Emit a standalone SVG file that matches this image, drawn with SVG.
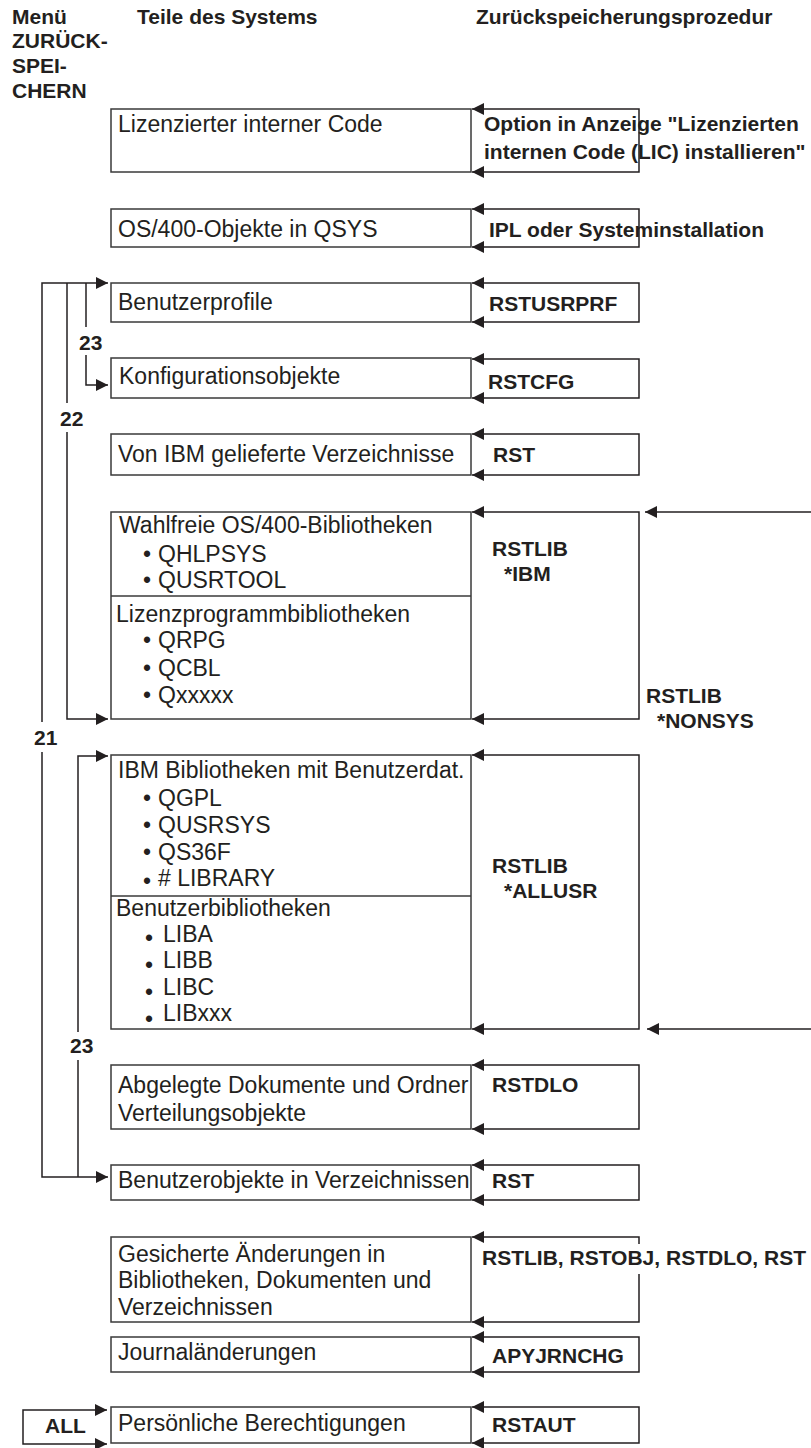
<svg xmlns="http://www.w3.org/2000/svg" width="811" height="1448" viewBox="0 0 811 1448">
<style>
  .hd { font-family: "Liberation Sans", Arial, sans-serif; font-size: 21px; font-weight: bold; fill: #231f20; }
  .tx { font-family: "Liberation Sans", Arial, sans-serif; font-size: 23px; fill: #231f20; }
  .bx { fill: #fff; stroke: #3a3a3a; stroke-width: 1.5; }
  .cn { fill: none; stroke: #231f20; stroke-width: 1.5; }
</style>
<defs>
  <marker id="ah" viewBox="0 0 12 12" refX="12" refY="6" markerWidth="12" markerHeight="12" markerUnits="userSpaceOnUse" orient="auto-start-reverse">
    <path d="M0,0 L12,6 L0,12 z" fill="#231f20"/>
  </marker>
</defs>

<g id="headers">
  <text class="hd" x="12" y="24">Menü</text>
  <text class="hd" x="12" y="48">ZURÜCK-</text>
  <text class="hd" x="12" y="73">SPEI-</text>
  <text class="hd" x="12" y="98">CHERN</text>
  <text class="hd" x="137" y="24">Teile des Systems</text>
  <text class="hd" x="476" y="24">Zurückspeicherungsprozedur</text>
</g>

<g id="connectors">
  <!-- right-side procedure brackets -->
  <path class="cn" d="M472,109 H639 V172 H472" marker-start="url(#ah)" marker-end="url(#ah)"/>
  <path class="cn" d="M472,209 H639 V247 H472" marker-start="url(#ah)" marker-end="url(#ah)"/>
  <path class="cn" d="M472,283 H639 V322 H472" marker-start="url(#ah)" marker-end="url(#ah)"/>
  <path class="cn" d="M472,359 H639 V398 H472" marker-start="url(#ah)" marker-end="url(#ah)"/>
  <path class="cn" d="M472,434 H639 V475 H472" marker-start="url(#ah)" marker-end="url(#ah)"/>
  <path class="cn" d="M472,512 H639 V719 H472" marker-start="url(#ah)" marker-end="url(#ah)"/>
  <path class="cn" d="M472,755 H639 V1029 H472" marker-start="url(#ah)" marker-end="url(#ah)"/>
  <path class="cn" d="M472,1065 H639 V1129 H472" marker-start="url(#ah)" marker-end="url(#ah)"/>
  <path class="cn" d="M472,1165 H639 V1200 H472" marker-start="url(#ah)" marker-end="url(#ah)"/>
  <path class="cn" d="M472,1237 H639 V1244" marker-start="url(#ah)"/>
  <path class="cn" d="M639,1274 V1322 H472" marker-end="url(#ah)"/>
  <path class="cn" d="M472,1337 H639 V1372 H472" marker-start="url(#ah)" marker-end="url(#ah)"/>
  <path class="cn" d="M472,1407 H639 V1443 H472" marker-start="url(#ah)" marker-end="url(#ah)"/>
  <!-- NONSYS -->
  <path class="cn" d="M811,512 H645" marker-end="url(#ah)"/>
  <path class="cn" d="M811,1029 H647" marker-end="url(#ah)"/>
  <!-- menu option lines -->
  <path class="cn" d="M42,722 V283 H108" marker-end="url(#ah)"/>
  <path class="cn" d="M42,752 V1177 H108" marker-end="url(#ah)"/>
  <path class="cn" d="M67,283 V403"/>
  <path class="cn" d="M67,432 V719 H108" marker-end="url(#ah)"/>
  <path class="cn" d="M86,283 V327"/>
  <path class="cn" d="M86,355 V385 H108" marker-end="url(#ah)"/>
  <path class="cn" d="M108,756 H78 V1032" marker-start="url(#ah)"/>
  <path class="cn" d="M78,1060 V1177"/>
  <path class="cn" d="M107,1410 H23 V1444 H107" marker-start="url(#ah)" marker-end="url(#ah)"/>
  <text class="hd" x="34" y="745">21</text>
  <text class="hd" x="60" y="426">22</text>
  <text class="hd" x="79" y="350">23</text>
  <text class="hd" x="70" y="1053">23</text>
</g>

<g id="n-lic">
  <rect class="bx" x="111" y="109" width="360" height="63"/>
  <text class="tx" x="118" y="132">Lizenzierter interner Code</text>
  <text class="hd" x="484" y="131">Option in Anzeige "Lizenzierten</text>
  <text class="hd" x="484" y="159">internen Code (LIC) installieren"</text>
</g>
<g id="n-os400">
  <rect class="bx" x="111" y="209" width="360" height="38"/>
  <text class="tx" x="118" y="237">OS/400-Objekte in QSYS</text>
  <text class="hd" x="489" y="237">IPL oder Systeminstallation</text>
</g>
<g id="n-usrprf">
  <rect class="bx" x="111" y="283" width="360" height="39"/>
  <text class="tx" x="118" y="310">Benutzerprofile</text>
  <text class="hd" x="489" y="311">RSTUSRPRF</text>
</g>
<g id="n-cfg">
  <rect class="bx" x="111" y="358" width="360" height="40"/>
  <text class="tx" x="119" y="384">Konfigurationsobjekte</text>
  <text class="hd" x="488" y="389">RSTCFG</text>
</g>
<g id="n-ibmdir">
  <rect class="bx" x="111" y="434" width="360" height="41"/>
  <text class="tx" x="118" y="462">Von IBM gelieferte Verzeichnisse</text>
  <text class="hd" x="493" y="462">RST</text>
</g>
<g id="n-ibmlib">
  <rect class="bx" x="111" y="512" width="360" height="207"/>
  <line class="bx" x1="111" y1="596" x2="471" y2="596"/>
  <text class="tx" x="119" y="533">Wahlfreie OS/400-Bibliotheken</text>
  <text class="tx" x="143" y="562">•</text><text class="tx" x="158" y="562">QHLPSYS</text>
  <text class="tx" x="143" y="588">•</text><text class="tx" x="158" y="588">QUSRTOOL</text>
  <text class="tx" x="116" y="622">Lizenzprogrammbibliotheken</text>
  <text class="tx" x="143" y="648">•</text><text class="tx" x="158" y="648">QRPG</text>
  <text class="tx" x="143" y="676">•</text><text class="tx" x="158" y="676">QCBL</text>
  <text class="tx" x="143" y="703">•</text><text class="tx" x="158" y="703">Qxxxxx</text>
  <text class="hd" x="492" y="556">RSTLIB</text>
  <text class="hd" x="504" y="581">*IBM</text>
  <text class="hd" x="646" y="703">RSTLIB</text>
  <text class="hd" x="657" y="728">*NONSYS</text>
</g>
<g id="n-usrlib">
  <rect class="bx" x="111" y="755" width="360" height="274"/>
  <line class="bx" x1="111" y1="896" x2="471" y2="896"/>
  <text class="tx" x="118" y="778">IBM Bibliotheken mit Benutzerdat.</text>
  <text class="tx" x="143" y="806">•</text><text class="tx" x="158" y="806">QGPL</text>
  <text class="tx" x="143" y="833">•</text><text class="tx" x="158" y="833">QUSRSYS</text>
  <text class="tx" x="143" y="860">•</text><text class="tx" x="158" y="860">QS36F</text>
  <text class="tx" x="143" y="889">•</text><text class="tx" x="158" y="886"># LIBRARY</text>
  <text class="tx" x="116" y="916">Benutzerbibliotheken</text>
  <text class="tx" x="145" y="946">•</text><text class="tx" x="163" y="942">LIBA</text>
  <text class="tx" x="145" y="973">•</text><text class="tx" x="163" y="968">LIBB</text>
  <text class="tx" x="145" y="1000">•</text><text class="tx" x="163" y="995">LIBC</text>
  <text class="tx" x="145" y="1027">•</text><text class="tx" x="163" y="1021">LIBxxx</text>
  <text class="hd" x="492" y="873">RSTLIB</text>
  <text class="hd" x="504" y="898">*ALLUSR</text>
</g>
<g id="n-dlo">
  <rect class="bx" x="111" y="1065" width="360" height="64"/>
  <text class="tx" x="118" y="1093">Abgelegte Dokumente und Ordner</text>
  <text class="tx" x="118" y="1121">Verteilungsobjekte</text>
  <text class="hd" x="492" y="1092">RSTDLO</text>
</g>
<g id="n-usrdir">
  <rect class="bx" x="111" y="1165" width="360" height="35"/>
  <text class="tx" x="118" y="1188">Benutzerobjekte in Verzeichnissen</text>
  <text class="hd" x="492" y="1188">RST</text>
</g>
<g id="n-changes">
  <rect class="bx" x="111" y="1237" width="360" height="85"/>
  <text class="tx" x="118" y="1262">Gesicherte Änderungen in</text>
  <text class="tx" x="118" y="1288">Bibliotheken, Dokumenten und</text>
  <text class="tx" x="118" y="1315">Verzeichnissen</text>
  <text class="hd" x="482" y="1265">RSTLIB, RSTOBJ, RSTDLO, RST</text>
</g>
<g id="n-journal">
  <rect class="bx" x="111" y="1337" width="360" height="35"/>
  <text class="tx" x="118" y="1360">Journaländerungen</text>
  <text class="hd" x="492" y="1363">APYJRNCHG</text>
</g>
<g id="n-aut">
  <rect class="bx" x="111" y="1407" width="360" height="36"/>
  <text class="tx" x="118" y="1431">Persönliche Berechtigungen</text>
  <text class="hd" x="492" y="1432">RSTAUT</text>
</g>
<g id="n-all">
  <text class="hd" x="45" y="1433">ALL</text>
</g>
</svg>
